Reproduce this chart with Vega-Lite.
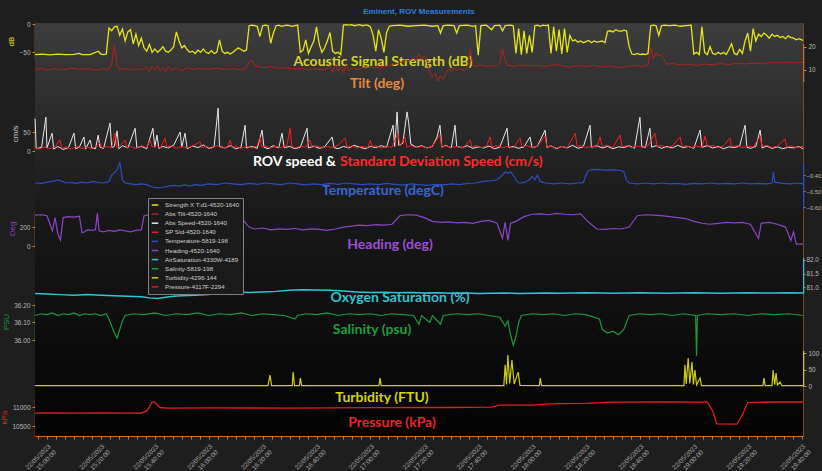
{
"$schema": "https://vega.github.io/schema/vega-lite/v6.json",
"width": 768, "height": 413,
"autosize": {"type": "none"},
"padding": {"left": 35, "top": 23, "right": 19, "bottom": 35},
"background": "#1e1e1e",
"title": {"text": "Eminent, ROV Measurements", "color": "#2f7fe0", "fontSize": 8, "fontWeight": "bold", "anchor": "middle", "offset": 5, "font": "Liberation Sans"},
"datasets": {
"ac": [
{"t":"2023-05-22T14:55:35","v":-54},{"t":"2023-05-22T14:58","v":-53},{"t":"2023-05-22T15:01","v":-54.5},{"t":"2023-05-22T15:04","v":-53},{"t":"2023-05-22T15:07","v":-54},{"t":"2023-05-22T15:10","v":-53.5},{"t":"2023-05-22T15:12","v":-52},{"t":"2023-05-22T15:13","v":-54},{"t":"2023-05-22T15:16","v":-54},{"t":"2023-05-22T15:19","v":-48},{"t":"2023-05-22T15:20","v":-53},{"t":"2023-05-22T15:21","v":-54},{"t":"2023-05-22T15:22","v":-53},{"t":"2023-05-22T15:23","v":-7},{"t":"2023-05-22T15:24","v":-12},{"t":"2023-05-22T15:25","v":-5},{"t":"2023-05-22T15:26","v":-4},{"t":"2023-05-22T15:27","v":-20},{"t":"2023-05-22T15:28","v":-9},{"t":"2023-05-22T15:29","v":-30},{"t":"2023-05-22T15:30","v":-14},{"t":"2023-05-22T15:31","v":-10},{"t":"2023-05-22T15:32","v":-35},{"t":"2023-05-22T15:33","v":-18},{"t":"2023-05-22T15:34","v":-38},{"t":"2023-05-22T15:35","v":-25},{"t":"2023-05-22T15:36","v":-42},{"t":"2023-05-22T15:37","v":-48},{"t":"2023-05-22T15:38","v":-36},{"t":"2023-05-22T15:39","v":-50},{"t":"2023-05-22T15:40","v":-44},{"t":"2023-05-22T15:41","v":-50},{"t":"2023-05-22T15:42","v":-46},{"t":"2023-05-22T15:43","v":-40},{"t":"2023-05-22T15:44","v":-48},{"t":"2023-05-22T15:45","v":-50},{"t":"2023-05-22T15:46","v":-46},{"t":"2023-05-22T15:47","v":-40},{"t":"2023-05-22T15:48","v":-14},{"t":"2023-05-22T15:49","v":-30},{"t":"2023-05-22T15:50","v":-42},{"t":"2023-05-22T15:51","v":-38},{"t":"2023-05-22T15:52","v":-45},{"t":"2023-05-22T15:53","v":-50},{"t":"2023-05-22T15:54","v":-48},{"t":"2023-05-22T15:55","v":-52},{"t":"2023-05-22T15:56","v":-46},{"t":"2023-05-22T15:57","v":-50},{"t":"2023-05-22T15:58","v":-44},{"t":"2023-05-22T15:59","v":-50},{"t":"2023-05-22T16:00","v":-52},{"t":"2023-05-22T16:01","v":-47},{"t":"2023-05-22T16:02","v":-52},{"t":"2023-05-22T16:03","v":-50},{"t":"2023-05-22T16:04","v":-28},{"t":"2023-05-22T16:05","v":-48},{"t":"2023-05-22T16:06","v":-52},{"t":"2023-05-22T16:07","v":-50},{"t":"2023-05-22T16:08","v":-53},{"t":"2023-05-22T16:09","v":-50},{"t":"2023-05-22T16:10","v":-46},{"t":"2023-05-22T16:11","v":-42},{"t":"2023-05-22T16:12","v":-45},{"t":"2023-05-22T16:13","v":-48},{"t":"2023-05-22T16:14","v":-46},{"t":"2023-05-22T16:15","v":-3},{"t":"2023-05-22T16:16","v":-2},{"t":"2023-05-22T16:17","v":-3},{"t":"2023-05-22T16:18","v":-4},{"t":"2023-05-22T16:19","v":-22},{"t":"2023-05-22T16:20","v":-3},{"t":"2023-05-22T16:21","v":-2},{"t":"2023-05-22T16:22","v":-3},{"t":"2023-05-22T16:23","v":-34},{"t":"2023-05-22T16:24","v":-16},{"t":"2023-05-22T16:25","v":-3},{"t":"2023-05-22T16:26","v":-2},{"t":"2023-05-22T16:27","v":-4},{"t":"2023-05-22T16:28","v":-3},{"t":"2023-05-22T16:29","v":-2},{"t":"2023-05-22T16:30","v":-3},{"t":"2023-05-22T16:31","v":-4},{"t":"2023-05-22T16:32","v":-3},{"t":"2023-05-22T16:33","v":-2},{"t":"2023-05-22T16:34","v":-50},{"t":"2023-05-22T16:35","v":-46},{"t":"2023-05-22T16:36","v":-28},{"t":"2023-05-22T16:37","v":-52},{"t":"2023-05-22T16:38","v":-40},{"t":"2023-05-22T16:39","v":-30},{"t":"2023-05-22T16:40","v":-5},{"t":"2023-05-22T16:41","v":-35},{"t":"2023-05-22T16:42","v":-50},{"t":"2023-05-22T16:43","v":-42},{"t":"2023-05-22T16:44","v":-30},{"t":"2023-05-22T16:45","v":-15},{"t":"2023-05-22T16:46","v":-48},{"t":"2023-05-22T16:47","v":-52},{"t":"2023-05-22T16:48","v":-50},{"t":"2023-05-22T16:49","v":-54},{"t":"2023-05-22T16:50","v":-2},{"t":"2023-05-22T16:51","v":-1},{"t":"2023-05-22T16:52","v":-2},{"t":"2023-05-22T16:53","v":-1},{"t":"2023-05-22T16:54","v":-3},{"t":"2023-05-22T16:55","v":-2},{"t":"2023-05-22T16:56","v":-1},{"t":"2023-05-22T16:57","v":-3},{"t":"2023-05-22T16:58","v":-2},{"t":"2023-05-22T16:59","v":-2},{"t":"2023-05-22T17:00","v":-5},{"t":"2023-05-22T17:01","v":-20},{"t":"2023-05-22T17:02","v":-48},{"t":"2023-05-22T17:03","v":-10},{"t":"2023-05-22T17:04","v":-25},{"t":"2023-05-22T17:05","v":-50},{"t":"2023-05-22T17:06","v":-15},{"t":"2023-05-22T17:07","v":-4},{"t":"2023-05-22T17:08","v":-3},{"t":"2023-05-22T17:11","v":-2},{"t":"2023-05-22T17:14","v":-4},{"t":"2023-05-22T17:17","v":-3},{"t":"2023-05-22T17:20","v":-2},{"t":"2023-05-22T17:23","v":-4},{"t":"2023-05-22T17:25","v":-3},{"t":"2023-05-22T17:26","v":-16},{"t":"2023-05-22T17:27","v":-3},{"t":"2023-05-22T17:29","v":-2},{"t":"2023-05-22T17:31","v":-3},{"t":"2023-05-22T17:32","v":-16},{"t":"2023-05-22T17:33","v":-3},{"t":"2023-05-22T17:36","v":-2},{"t":"2023-05-22T17:38","v":-4},{"t":"2023-05-22T17:39","v":-3},{"t":"2023-05-22T17:40","v":-55},{"t":"2023-05-22T17:41","v":-3},{"t":"2023-05-22T17:43","v":-2},{"t":"2023-05-22T17:45","v":-10},{"t":"2023-05-22T17:46","v":-3},{"t":"2023-05-22T17:48","v":-2},{"t":"2023-05-22T17:49","v":-12},{"t":"2023-05-22T17:50","v":-3},{"t":"2023-05-22T17:52","v":-2},{"t":"2023-05-22T17:53","v":-3},{"t":"2023-05-22T17:54","v":-52},{"t":"2023-05-22T17:55","v":-8},{"t":"2023-05-22T17:56","v":-54},{"t":"2023-05-22T17:57","v":-12},{"t":"2023-05-22T17:58","v":-52},{"t":"2023-05-22T17:59","v":-20},{"t":"2023-05-22T18:00","v":-50},{"t":"2023-05-22T18:01","v":-3},{"t":"2023-05-22T18:02","v":-2},{"t":"2023-05-22T18:03","v":-4},{"t":"2023-05-22T18:04","v":-2},{"t":"2023-05-22T18:05","v":-3},{"t":"2023-05-22T18:06","v":-2},{"t":"2023-05-22T18:07","v":-52},{"t":"2023-05-22T18:08","v":-5},{"t":"2023-05-22T18:09","v":-48},{"t":"2023-05-22T18:10","v":-10},{"t":"2023-05-22T18:11","v":-53},{"t":"2023-05-22T18:12","v":-8},{"t":"2023-05-22T18:13","v":-50},{"t":"2023-05-22T18:14","v":-20},{"t":"2023-05-22T18:15","v":-30},{"t":"2023-05-22T18:16","v":-28},{"t":"2023-05-22T18:17","v":-32},{"t":"2023-05-22T18:18","v":-30},{"t":"2023-05-22T18:19","v":-33},{"t":"2023-05-22T18:20","v":-31},{"t":"2023-05-22T18:21","v":-29},{"t":"2023-05-22T18:22","v":-33},{"t":"2023-05-22T18:23","v":-30},{"t":"2023-05-22T18:24","v":-32},{"t":"2023-05-22T18:25","v":-31},{"t":"2023-05-22T18:26","v":-30},{"t":"2023-05-22T18:27","v":-33},{"t":"2023-05-22T18:28","v":-13},{"t":"2023-05-22T18:29","v":-12},{"t":"2023-05-22T18:30","v":-14},{"t":"2023-05-22T18:31","v":-10},{"t":"2023-05-22T18:32","v":-12},{"t":"2023-05-22T18:33","v":-13},{"t":"2023-05-22T18:34","v":-11},{"t":"2023-05-22T18:35","v":-12},{"t":"2023-05-22T18:36","v":-40},{"t":"2023-05-22T18:37","v":-53},{"t":"2023-05-22T18:38","v":-54},{"t":"2023-05-22T18:39","v":-52},{"t":"2023-05-22T18:40","v":-54},{"t":"2023-05-22T18:41","v":-53},{"t":"2023-05-22T18:42","v":-54},{"t":"2023-05-22T18:43","v":-52},{"t":"2023-05-22T18:44","v":-3},{"t":"2023-05-22T18:45","v":-2},{"t":"2023-05-22T18:46","v":-3},{"t":"2023-05-22T18:47","v":-20},{"t":"2023-05-22T18:48","v":-3},{"t":"2023-05-22T18:49","v":-2},{"t":"2023-05-22T18:51","v":-3},{"t":"2023-05-22T18:53","v":-2},{"t":"2023-05-22T18:55","v":-4},{"t":"2023-05-22T18:57","v":-3},{"t":"2023-05-22T18:59","v":-2},{"t":"2023-05-22T19:00","v":-53},{"t":"2023-05-22T19:01","v":-50},{"t":"2023-05-22T19:02","v":-54},{"t":"2023-05-22T19:03","v":-5},{"t":"2023-05-22T19:04","v":-50},{"t":"2023-05-22T19:05","v":-54},{"t":"2023-05-22T19:06","v":-40},{"t":"2023-05-22T19:07","v":-52},{"t":"2023-05-22T19:08","v":-54},{"t":"2023-05-22T19:09","v":-50},{"t":"2023-05-22T19:10","v":-53},{"t":"2023-05-22T19:11","v":-50},{"t":"2023-05-22T19:12","v":-54},{"t":"2023-05-22T19:13","v":-45},{"t":"2023-05-22T19:14","v":-35},{"t":"2023-05-22T19:15","v":-52},{"t":"2023-05-22T19:16","v":-54},{"t":"2023-05-22T19:17","v":-45},{"t":"2023-05-22T19:18","v":-52},{"t":"2023-05-22T19:19","v":-30},{"t":"2023-05-22T19:20","v":-16},{"t":"2023-05-22T19:21","v":-48},{"t":"2023-05-22T19:22","v":-8},{"t":"2023-05-22T19:23","v":-30},{"t":"2023-05-22T19:24","v":-18},{"t":"2023-05-22T19:25","v":-22},{"t":"2023-05-22T19:26","v":-16},{"t":"2023-05-22T19:27","v":-20},{"t":"2023-05-22T19:28","v":-25},{"t":"2023-05-22T19:29","v":-18},{"t":"2023-05-22T19:30","v":-22},{"t":"2023-05-22T19:31","v":-20},{"t":"2023-05-22T19:32","v":-24},{"t":"2023-05-22T19:33","v":-22},{"t":"2023-05-22T19:34","v":-26},{"t":"2023-05-22T19:35","v":-21},{"t":"2023-05-22T19:36","v":-24},{"t":"2023-05-22T19:37","v":-25},{"t":"2023-05-22T19:38","v":-28},{"t":"2023-05-22T19:39","v":-26},{"t":"2023-05-22T19:40","v":-28},{"t":"2023-05-22T19:40:30","v":-29}
],
"tilt": [
{"t":"2023-05-22T14:55:35","v":10.2},{"t":"2023-05-22T14:58","v":10.6},{"t":"2023-05-22T15:00","v":10.0},{"t":"2023-05-22T15:03","v":10.5},{"t":"2023-05-22T15:06","v":10.1},{"t":"2023-05-22T15:09","v":10.8},{"t":"2023-05-22T15:12","v":10.3},{"t":"2023-05-22T15:15","v":10.6},{"t":"2023-05-22T15:18","v":10.0},{"t":"2023-05-22T15:21","v":10.5},{"t":"2023-05-22T15:23","v":10.2},{"t":"2023-05-22T15:24","v":12.5},{"t":"2023-05-22T15:25","v":20.9},{"t":"2023-05-22T15:26","v":12},{"t":"2023-05-22T15:27","v":10.2},{"t":"2023-05-22T15:29","v":10.5},{"t":"2023-05-22T15:31","v":10.0},{"t":"2023-05-22T15:33","v":10.4},{"t":"2023-05-22T15:35","v":10.1},{"t":"2023-05-22T15:37","v":11.2},{"t":"2023-05-22T15:38","v":9.3},{"t":"2023-05-22T15:39","v":11.6},{"t":"2023-05-22T15:40","v":9.8},{"t":"2023-05-22T15:41","v":12.0},{"t":"2023-05-22T15:42","v":9.5},{"t":"2023-05-22T15:43","v":11.0},{"t":"2023-05-22T15:44","v":9.2},{"t":"2023-05-22T15:45","v":11.5},{"t":"2023-05-22T15:46","v":10.0},{"t":"2023-05-22T15:48","v":10.8},{"t":"2023-05-22T15:50","v":9.6},{"t":"2023-05-22T15:52","v":11.0},{"t":"2023-05-22T15:54","v":10.2},{"t":"2023-05-22T15:57","v":10.6},{"t":"2023-05-22T16:00","v":10.3},{"t":"2023-05-22T16:03","v":10.8},{"t":"2023-05-22T16:06","v":10.2},{"t":"2023-05-22T16:09","v":10.5},{"t":"2023-05-22T16:12","v":10.1},{"t":"2023-05-22T16:14","v":11.0},{"t":"2023-05-22T16:15","v":13.5},{"t":"2023-05-22T16:16","v":14.3},{"t":"2023-05-22T16:17","v":12.0},{"t":"2023-05-22T16:19","v":11.3},{"t":"2023-05-22T16:21","v":11.0},{"t":"2023-05-22T16:23","v":11.5},{"t":"2023-05-22T16:25","v":10.8},{"t":"2023-05-22T16:28","v":11.0},{"t":"2023-05-22T16:31","v":10.5},{"t":"2023-05-22T16:34","v":10.6},{"t":"2023-05-22T16:37","v":10.2},{"t":"2023-05-22T16:40","v":10.5},{"t":"2023-05-22T16:43","v":10.0},{"t":"2023-05-22T16:45","v":11.8},{"t":"2023-05-22T16:46","v":9.0},{"t":"2023-05-22T16:47","v":12.2},{"t":"2023-05-22T16:48","v":9.4},{"t":"2023-05-22T16:49","v":11.5},{"t":"2023-05-22T16:50","v":8.8},{"t":"2023-05-22T16:51","v":12.0},{"t":"2023-05-22T16:52","v":9.6},{"t":"2023-05-22T16:53","v":11.0},{"t":"2023-05-22T16:55","v":10.2},{"t":"2023-05-22T16:58","v":11.3},{"t":"2023-05-22T17:01","v":11.0},{"t":"2023-05-22T17:04","v":11.4},{"t":"2023-05-22T17:07","v":11.8},{"t":"2023-05-22T17:09","v":12.5},{"t":"2023-05-22T17:11","v":13.2},{"t":"2023-05-22T17:13","v":14.0},{"t":"2023-05-22T17:15","v":14.3},{"t":"2023-05-22T17:16","v":15.5},{"t":"2023-05-22T17:17","v":13.8},{"t":"2023-05-22T17:18","v":17.0},{"t":"2023-05-22T17:19","v":14.5},{"t":"2023-05-22T17:20","v":16.0},{"t":"2023-05-22T17:21","v":14.0},{"t":"2023-05-22T17:22","v":9.0},{"t":"2023-05-22T17:23","v":7.0},{"t":"2023-05-22T17:24","v":8.5},{"t":"2023-05-22T17:25","v":5.2},{"t":"2023-05-22T17:26","v":7.5},{"t":"2023-05-22T17:27","v":6.0},{"t":"2023-05-22T17:28","v":8.8},{"t":"2023-05-22T17:29","v":10.5},{"t":"2023-05-22T17:30","v":9.5},{"t":"2023-05-22T17:31","v":11.0},{"t":"2023-05-22T17:32","v":9.8},{"t":"2023-05-22T17:33","v":10.5},{"t":"2023-05-22T17:35","v":9.6},{"t":"2023-05-22T17:36","v":11.2},{"t":"2023-05-22T17:37","v":18.7},{"t":"2023-05-22T17:38","v":12.0},{"t":"2023-05-22T17:39","v":11.5},{"t":"2023-05-22T17:41","v":12.2},{"t":"2023-05-22T17:43","v":11.6},{"t":"2023-05-22T17:45","v":12.0},{"t":"2023-05-22T17:47","v":11.5},{"t":"2023-05-22T17:48","v":13.0},{"t":"2023-05-22T17:49","v":19.1},{"t":"2023-05-22T17:50","v":14.0},{"t":"2023-05-22T17:51","v":12.0},{"t":"2023-05-22T17:53","v":11.6},{"t":"2023-05-22T17:56","v":12.2},{"t":"2023-05-22T17:59","v":11.8},{"t":"2023-05-22T18:02","v":12.0},{"t":"2023-05-22T18:05","v":11.5},{"t":"2023-05-22T18:08","v":12.3},{"t":"2023-05-22T18:11","v":11.9},{"t":"2023-05-22T18:14","v":11.2},{"t":"2023-05-22T18:17","v":12.0},{"t":"2023-05-22T18:20","v":11.5},{"t":"2023-05-22T18:23","v":12.0},{"t":"2023-05-22T18:26","v":11.2},{"t":"2023-05-22T18:29","v":11.8},{"t":"2023-05-22T18:32","v":11.0},{"t":"2023-05-22T18:35","v":11.6},{"t":"2023-05-22T18:38","v":12.0},{"t":"2023-05-22T18:41","v":11.5},{"t":"2023-05-22T18:43","v":12.2},{"t":"2023-05-22T18:44","v":19.5},{"t":"2023-05-22T18:45","v":15.0},{"t":"2023-05-22T18:46","v":17.5},{"t":"2023-05-22T18:47","v":16.0},{"t":"2023-05-22T18:48","v":16.5},{"t":"2023-05-22T18:49","v":14.5},{"t":"2023-05-22T18:50","v":12.5},{"t":"2023-05-22T18:52","v":12.8},{"t":"2023-05-22T18:55","v":12.2},{"t":"2023-05-22T18:58","v":12.5},{"t":"2023-05-22T19:01","v":12.0},{"t":"2023-05-22T19:04","v":12.6},{"t":"2023-05-22T19:07","v":12.3},{"t":"2023-05-22T19:10","v":12.8},{"t":"2023-05-22T19:13","v":12.4},{"t":"2023-05-22T19:16","v":12.9},{"t":"2023-05-22T19:19","v":12.6},{"t":"2023-05-22T19:22","v":13.0},{"t":"2023-05-22T19:25","v":12.7},{"t":"2023-05-22T19:28","v":13.2},{"t":"2023-05-22T19:31","v":13.0},{"t":"2023-05-22T19:34","v":13.4},{"t":"2023-05-22T19:37","v":13.1},{"t":"2023-05-22T19:40:30","v":13.3}
],
"spd": [
{"t":"2023-05-22T14:55:35","v":85},{"t":"2023-05-22T14:56","v":6},{"t":"2023-05-22T14:58","v":10},{"t":"2023-05-22T14:59:36","v":89},{"t":"2023-05-22T15:00","v":8},{"t":"2023-05-22T15:01:54","v":47},{"t":"2023-05-22T15:02:30","v":5},{"t":"2023-05-22T15:04","v":12},{"t":"2023-05-22T15:06","v":4},{"t":"2023-05-22T15:08","v":9},{"t":"2023-05-22T15:10","v":47},{"t":"2023-05-22T15:10:40","v":6},{"t":"2023-05-22T15:12","v":10},{"t":"2023-05-22T15:13:42","v":37},{"t":"2023-05-22T15:14:20","v":5},{"t":"2023-05-22T15:16","v":29},{"t":"2023-05-22T15:16:40","v":8},{"t":"2023-05-22T15:18","v":6},{"t":"2023-05-22T15:19","v":42},{"t":"2023-05-22T15:19:40","v":10},{"t":"2023-05-22T15:21","v":7},{"t":"2023-05-22T15:23:24","v":74},{"t":"2023-05-22T15:24","v":9},{"t":"2023-05-22T15:25","v":12},{"t":"2023-05-22T15:26","v":53},{"t":"2023-05-22T15:26:40","v":6},{"t":"2023-05-22T15:28","v":14},{"t":"2023-05-22T15:30","v":8},{"t":"2023-05-22T15:32:42","v":60},{"t":"2023-05-22T15:33:20","v":9},{"t":"2023-05-22T15:35","v":12},{"t":"2023-05-22T15:37","v":6},{"t":"2023-05-22T15:39:18","v":60},{"t":"2023-05-22T15:40","v":10},{"t":"2023-05-22T15:40:48","v":42},{"t":"2023-05-22T15:41:30","v":7},{"t":"2023-05-22T15:43","v":12},{"t":"2023-05-22T15:45","v":8},{"t":"2023-05-22T15:47","v":15},{"t":"2023-05-22T15:49:24","v":50},{"t":"2023-05-22T15:50","v":10},{"t":"2023-05-22T15:51:12","v":47},{"t":"2023-05-22T15:52","v":6},{"t":"2023-05-22T15:54","v":13},{"t":"2023-05-22T15:56","v":9},{"t":"2023-05-22T15:58","v":16},{"t":"2023-05-22T16:00","v":7},{"t":"2023-05-22T16:02","v":11},{"t":"2023-05-22T16:03:30","v":113},{"t":"2023-05-22T16:04","v":12},{"t":"2023-05-22T16:06","v":8},{"t":"2023-05-22T16:08","v":14},{"t":"2023-05-22T16:10","v":6},{"t":"2023-05-22T16:12","v":10},{"t":"2023-05-22T16:13:30","v":68},{"t":"2023-05-22T16:14","v":8},{"t":"2023-05-22T16:16","v":12},{"t":"2023-05-22T16:18","v":7},{"t":"2023-05-22T16:19:48","v":55},{"t":"2023-05-22T16:20:30","v":10},{"t":"2023-05-22T16:22","v":6},{"t":"2023-05-22T16:24","v":14},{"t":"2023-05-22T16:26","v":8},{"t":"2023-05-22T16:27:12","v":47},{"t":"2023-05-22T16:28","v":9},{"t":"2023-05-22T16:30","v":12},{"t":"2023-05-22T16:32","v":6},{"t":"2023-05-22T16:34","v":10},{"t":"2023-05-22T16:36:30","v":60},{"t":"2023-05-22T16:37","v":8},{"t":"2023-05-22T16:39","v":13},{"t":"2023-05-22T16:41","v":7},{"t":"2023-05-22T16:43","v":11},{"t":"2023-05-22T16:45:48","v":37},{"t":"2023-05-22T16:46:30","v":9},{"t":"2023-05-22T16:48","v":6},{"t":"2023-05-22T16:50","v":12},{"t":"2023-05-22T16:52","v":8},{"t":"2023-05-22T16:54","v":15},{"t":"2023-05-22T16:56","v":10},{"t":"2023-05-22T16:58","v":6},{"t":"2023-05-22T17:00","v":12},{"t":"2023-05-22T17:02","v":9},{"t":"2023-05-22T17:04","v":14},{"t":"2023-05-22T17:06","v":10},{"t":"2023-05-22T17:08:24","v":68},{"t":"2023-05-22T17:09","v":12},{"t":"2023-05-22T17:09:54","v":103},{"t":"2023-05-22T17:10:30","v":15},{"t":"2023-05-22T17:12","v":20},{"t":"2023-05-22T17:13:36","v":103},{"t":"2023-05-22T17:14:12","v":74},{"t":"2023-05-22T17:15","v":18},{"t":"2023-05-22T17:17","v":10},{"t":"2023-05-22T17:19","v":14},{"t":"2023-05-22T17:21","v":8},{"t":"2023-05-22T17:23","v":12},{"t":"2023-05-22T17:24:42","v":37},{"t":"2023-05-22T17:25:48","v":68},{"t":"2023-05-22T17:26:30","v":10},{"t":"2023-05-22T17:28","v":15},{"t":"2023-05-22T17:30","v":8},{"t":"2023-05-22T17:31:24","v":68},{"t":"2023-05-22T17:32","v":12},{"t":"2023-05-22T17:34","v":9},{"t":"2023-05-22T17:36","v":14},{"t":"2023-05-22T17:38","v":7},{"t":"2023-05-22T17:40","v":11},{"t":"2023-05-22T17:42","v":8},{"t":"2023-05-22T17:44","v":13},{"t":"2023-05-22T17:46","v":6},{"t":"2023-05-22T17:48","v":10},{"t":"2023-05-22T17:50:42","v":60},{"t":"2023-05-22T17:51:20","v":9},{"t":"2023-05-22T17:53","v":12},{"t":"2023-05-22T17:55","v":7},{"t":"2023-05-22T17:57","v":11},{"t":"2023-05-22T17:59:12","v":37},{"t":"2023-05-22T18:00","v":8},{"t":"2023-05-22T18:02","v":13},{"t":"2023-05-22T18:04:48","v":55},{"t":"2023-05-22T18:05:30","v":9},{"t":"2023-05-22T18:07","v":14},{"t":"2023-05-22T18:09","v":6},{"t":"2023-05-22T18:11","v":12},{"t":"2023-05-22T18:13","v":8},{"t":"2023-05-22T18:15","v":15},{"t":"2023-05-22T18:17","v":7},{"t":"2023-05-22T18:19","v":11},{"t":"2023-05-22T18:21:30","v":68},{"t":"2023-05-22T18:22","v":10},{"t":"2023-05-22T18:24","v":14},{"t":"2023-05-22T18:26","v":8},{"t":"2023-05-22T18:28","v":12},{"t":"2023-05-22T18:30","v":6},{"t":"2023-05-22T18:32","v":11},{"t":"2023-05-22T18:34","v":9},{"t":"2023-05-22T18:36","v":14},{"t":"2023-05-22T18:38","v":7},{"t":"2023-05-22T18:40","v":89},{"t":"2023-05-22T18:40:40","v":12},{"t":"2023-05-22T18:42","v":9},{"t":"2023-05-22T18:43:42","v":60},{"t":"2023-05-22T18:44:20","v":10},{"t":"2023-05-22T18:46","v":14},{"t":"2023-05-22T18:48","v":7},{"t":"2023-05-22T18:50","v":12},{"t":"2023-05-22T18:52","v":8},{"t":"2023-05-22T18:54","v":15},{"t":"2023-05-22T18:56","v":9},{"t":"2023-05-22T18:58","v":12},{"t":"2023-05-22T19:00","v":7},{"t":"2023-05-22T19:02:18","v":55},{"t":"2023-05-22T19:03","v":10},{"t":"2023-05-22T19:05","v":14},{"t":"2023-05-22T19:07","v":8},{"t":"2023-05-22T19:09","v":12},{"t":"2023-05-22T19:11","v":6},{"t":"2023-05-22T19:13","v":11},{"t":"2023-05-22T19:15","v":9},{"t":"2023-05-22T19:17","v":13},{"t":"2023-05-22T19:19","v":68},{"t":"2023-05-22T19:19:40","v":10},{"t":"2023-05-22T19:21","v":7},{"t":"2023-05-22T19:23","v":12},{"t":"2023-05-22T19:24:36","v":55},{"t":"2023-05-22T19:25:20","v":8},{"t":"2023-05-22T19:27","v":13},{"t":"2023-05-22T19:29","v":7},{"t":"2023-05-22T19:31","v":11},{"t":"2023-05-22T19:33","v":6},{"t":"2023-05-22T19:35","v":10},{"t":"2023-05-22T19:37","v":8},{"t":"2023-05-22T19:39","v":12},{"t":"2023-05-22T19:40:30","v":6}
],
"sd": [
{"t":"2023-05-22T14:55:35","v":8},{"t":"2023-05-22T14:57","v":5},{"t":"2023-05-22T14:59","v":10},{"t":"2023-05-22T15:01","v":6},{"t":"2023-05-22T15:03","v":12},{"t":"2023-05-22T15:04:48","v":29},{"t":"2023-05-22T15:05:30","v":7},{"t":"2023-05-22T15:07","v":11},{"t":"2023-05-22T15:09","v":5},{"t":"2023-05-22T15:11","v":13},{"t":"2023-05-22T15:13","v":7},{"t":"2023-05-22T15:15","v":10},{"t":"2023-05-22T15:17","v":6},{"t":"2023-05-22T15:19:42","v":21},{"t":"2023-05-22T15:20:30","v":8},{"t":"2023-05-22T15:22","v":12},{"t":"2023-05-22T15:24","v":9},{"t":"2023-05-22T15:25:12","v":47},{"t":"2023-05-22T15:26","v":10},{"t":"2023-05-22T15:27","v":14},{"t":"2023-05-22T15:29","v":29},{"t":"2023-05-22T15:29:40","v":8},{"t":"2023-05-22T15:31","v":12},{"t":"2023-05-22T15:33","v":6},{"t":"2023-05-22T15:35","v":14},{"t":"2023-05-22T15:37","v":9},{"t":"2023-05-22T15:38:12","v":29},{"t":"2023-05-22T15:39","v":11},{"t":"2023-05-22T15:41","v":15},{"t":"2023-05-22T15:42","v":8},{"t":"2023-05-22T15:43:48","v":34},{"t":"2023-05-22T15:44:30","v":10},{"t":"2023-05-22T15:46","v":14},{"t":"2023-05-22T15:48","v":7},{"t":"2023-05-22T15:50","v":12},{"t":"2023-05-22T15:52","v":8},{"t":"2023-05-22T15:54","v":13},{"t":"2023-05-22T15:56:48","v":24},{"t":"2023-05-22T15:57:30","v":9},{"t":"2023-05-22T15:59","v":12},{"t":"2023-05-22T16:01","v":7},{"t":"2023-05-22T16:03","v":14},{"t":"2023-05-22T16:05","v":8},{"t":"2023-05-22T16:07","v":11},{"t":"2023-05-22T16:08","v":29},{"t":"2023-05-22T16:08:40","v":9},{"t":"2023-05-22T16:10","v":13},{"t":"2023-05-22T16:12","v":7},{"t":"2023-05-22T16:14","v":12},{"t":"2023-05-22T16:16","v":8},{"t":"2023-05-22T16:18","v":14},{"t":"2023-05-22T16:19","v":37},{"t":"2023-05-22T16:19:40","v":10},{"t":"2023-05-22T16:21","v":13},{"t":"2023-05-22T16:23","v":8},{"t":"2023-05-22T16:25","v":12},{"t":"2023-05-22T16:27","v":9},{"t":"2023-05-22T16:29","v":14},{"t":"2023-05-22T16:30:12","v":60},{"t":"2023-05-22T16:30:50","v":12},{"t":"2023-05-22T16:32","v":8},{"t":"2023-05-22T16:34","v":13},{"t":"2023-05-22T16:36","v":10},{"t":"2023-05-22T16:37:36","v":29},{"t":"2023-05-22T16:38:20","v":9},{"t":"2023-05-22T16:40","v":14},{"t":"2023-05-22T16:42","v":8},{"t":"2023-05-22T16:44","v":12},{"t":"2023-05-22T16:46","v":9},{"t":"2023-05-22T16:48","v":15},{"t":"2023-05-22T16:50:36","v":34},{"t":"2023-05-22T16:51:20","v":10},{"t":"2023-05-22T16:53","v":13},{"t":"2023-05-22T16:55","v":8},{"t":"2023-05-22T16:57","v":12},{"t":"2023-05-22T16:59","v":9},{"t":"2023-05-22T17:00","v":29},{"t":"2023-05-22T17:00:40","v":11},{"t":"2023-05-22T17:02","v":14},{"t":"2023-05-22T17:04","v":8},{"t":"2023-05-22T17:06","v":12},{"t":"2023-05-22T17:08","v":10},{"t":"2023-05-22T17:10:12","v":47},{"t":"2023-05-22T17:11","v":13},{"t":"2023-05-22T17:12:48","v":37},{"t":"2023-05-22T17:13:30","v":10},{"t":"2023-05-22T17:15","v":14},{"t":"2023-05-22T17:17","v":9},{"t":"2023-05-22T17:19","v":12},{"t":"2023-05-22T17:21","v":8},{"t":"2023-05-22T17:23","v":13},{"t":"2023-05-22T17:25:48","v":42},{"t":"2023-05-22T17:26:30","v":10},{"t":"2023-05-22T17:28","v":14},{"t":"2023-05-22T17:30","v":9},{"t":"2023-05-22T17:32","v":12},{"t":"2023-05-22T17:34","v":8},{"t":"2023-05-22T17:35","v":13},{"t":"2023-05-22T17:37","v":29},{"t":"2023-05-22T17:37:40","v":10},{"t":"2023-05-22T17:39","v":15},{"t":"2023-05-22T17:41","v":9},{"t":"2023-05-22T17:43","v":12},{"t":"2023-05-22T17:44:24","v":37},{"t":"2023-05-22T17:45","v":11},{"t":"2023-05-22T17:47","v":14},{"t":"2023-05-22T17:49","v":9},{"t":"2023-05-22T17:51","v":12},{"t":"2023-05-22T17:53","v":8},{"t":"2023-05-22T17:55:30","v":34},{"t":"2023-05-22T17:56:10","v":11},{"t":"2023-05-22T17:58","v":14},{"t":"2023-05-22T18:00","v":9},{"t":"2023-05-22T18:02","v":13},{"t":"2023-05-22T18:04:48","v":39},{"t":"2023-05-22T18:05:30","v":10},{"t":"2023-05-22T18:07","v":14},{"t":"2023-05-22T18:09","v":8},{"t":"2023-05-22T18:11","v":12},{"t":"2023-05-22T18:13","v":9},{"t":"2023-05-22T18:16","v":47},{"t":"2023-05-22T18:16:40","v":12},{"t":"2023-05-22T18:18","v":15},{"t":"2023-05-22T18:20","v":9},{"t":"2023-05-22T18:22","v":13},{"t":"2023-05-22T18:24","v":10},{"t":"2023-05-22T18:25:12","v":37},{"t":"2023-05-22T18:26","v":12},{"t":"2023-05-22T18:28","v":15},{"t":"2023-05-22T18:30","v":9},{"t":"2023-05-22T18:32:36","v":42},{"t":"2023-05-22T18:33:20","v":11},{"t":"2023-05-22T18:35","v":14},{"t":"2023-05-22T18:37","v":9},{"t":"2023-05-22T18:39","v":13},{"t":"2023-05-22T18:41","v":10},{"t":"2023-05-22T18:43","v":14},{"t":"2023-05-22T18:45:36","v":47},{"t":"2023-05-22T18:46:20","v":12},{"t":"2023-05-22T18:48","v":15},{"t":"2023-05-22T18:50","v":9},{"t":"2023-05-22T18:52","v":13},{"t":"2023-05-22T18:54:54","v":37},{"t":"2023-05-22T18:55:40","v":11},{"t":"2023-05-22T18:57","v":14},{"t":"2023-05-22T18:59","v":9},{"t":"2023-05-22T19:01","v":13},{"t":"2023-05-22T19:03","v":10},{"t":"2023-05-22T19:04:12","v":39},{"t":"2023-05-22T19:05","v":12},{"t":"2023-05-22T19:07","v":15},{"t":"2023-05-22T19:09","v":9},{"t":"2023-05-22T19:11","v":13},{"t":"2023-05-22T19:13:24","v":34},{"t":"2023-05-22T19:14","v":11},{"t":"2023-05-22T19:16","v":14},{"t":"2023-05-22T19:18","v":9},{"t":"2023-05-22T19:20","v":13},{"t":"2023-05-22T19:22","v":10},{"t":"2023-05-22T19:24:36","v":39},{"t":"2023-05-22T19:25:20","v":12},{"t":"2023-05-22T19:27","v":15},{"t":"2023-05-22T19:29","v":9},{"t":"2023-05-22T19:31","v":13},{"t":"2023-05-22T19:33:48","v":32},{"t":"2023-05-22T19:34:30","v":10},{"t":"2023-05-22T19:36","v":14},{"t":"2023-05-22T19:38","v":9},{"t":"2023-05-22T19:40:30","v":12}
],
"temp": [
{"t":"2023-05-22T14:55:35","v":-0.45},{"t":"2023-05-22T14:58","v":-0.452},{"t":"2023-05-22T15:00","v":-0.445},{"t":"2023-05-22T15:02","v":-0.44},{"t":"2023-05-22T15:04","v":-0.43},{"t":"2023-05-22T15:05","v":-0.435},{"t":"2023-05-22T15:07","v":-0.45},{"t":"2023-05-22T15:09","v":-0.447},{"t":"2023-05-22T15:11","v":-0.452},{"t":"2023-05-22T15:13","v":-0.445},{"t":"2023-05-22T15:15","v":-0.45},{"t":"2023-05-22T15:17","v":-0.44},{"t":"2023-05-22T15:19","v":-0.447},{"t":"2023-05-22T15:21","v":-0.45},{"t":"2023-05-22T15:23","v":-0.44},{"t":"2023-05-22T15:24","v":-0.40},{"t":"2023-05-22T15:25","v":-0.385},{"t":"2023-05-22T15:26","v":-0.37},{"t":"2023-05-22T15:27","v":-0.32},{"t":"2023-05-22T15:28","v":-0.43},{"t":"2023-05-22T15:29","v":-0.45},{"t":"2023-05-22T15:31","v":-0.455},{"t":"2023-05-22T15:33","v":-0.46},{"t":"2023-05-22T15:35","v":-0.455},{"t":"2023-05-22T15:37","v":-0.46},{"t":"2023-05-22T15:39","v":-0.475},{"t":"2023-05-22T15:41","v":-0.48},{"t":"2023-05-22T15:43","v":-0.478},{"t":"2023-05-22T15:45","v":-0.47},{"t":"2023-05-22T15:47","v":-0.465},{"t":"2023-05-22T15:49","v":-0.47},{"t":"2023-05-22T15:51","v":-0.462},{"t":"2023-05-22T15:53","v":-0.468},{"t":"2023-05-22T15:55","v":-0.46},{"t":"2023-05-22T15:57","v":-0.465},{"t":"2023-05-22T16:00","v":-0.455},{"t":"2023-05-22T16:03","v":-0.46},{"t":"2023-05-22T16:06","v":-0.45},{"t":"2023-05-22T16:09","v":-0.455},{"t":"2023-05-22T16:12","v":-0.46},{"t":"2023-05-22T16:15","v":-0.452},{"t":"2023-05-22T16:18","v":-0.458},{"t":"2023-05-22T16:21","v":-0.45},{"t":"2023-05-22T16:24","v":-0.455},{"t":"2023-05-22T16:27","v":-0.46},{"t":"2023-05-22T16:30","v":-0.45},{"t":"2023-05-22T16:33","v":-0.455},{"t":"2023-05-22T16:36","v":-0.462},{"t":"2023-05-22T16:39","v":-0.455},{"t":"2023-05-22T16:42","v":-0.46},{"t":"2023-05-22T16:45","v":-0.452},{"t":"2023-05-22T16:48","v":-0.458},{"t":"2023-05-22T16:51","v":-0.45},{"t":"2023-05-22T16:54","v":-0.456},{"t":"2023-05-22T16:57","v":-0.46},{"t":"2023-05-22T17:00","v":-0.455},{"t":"2023-05-22T17:03","v":-0.46},{"t":"2023-05-22T17:06","v":-0.452},{"t":"2023-05-22T17:09","v":-0.458},{"t":"2023-05-22T17:12","v":-0.463},{"t":"2023-05-22T17:15","v":-0.455},{"t":"2023-05-22T17:18","v":-0.46},{"t":"2023-05-22T17:21","v":-0.465},{"t":"2023-05-22T17:24","v":-0.458},{"t":"2023-05-22T17:27","v":-0.462},{"t":"2023-05-22T17:30","v":-0.455},{"t":"2023-05-22T17:33","v":-0.46},{"t":"2023-05-22T17:36","v":-0.452},{"t":"2023-05-22T17:39","v":-0.45},{"t":"2023-05-22T17:42","v":-0.44},{"t":"2023-05-22T17:45","v":-0.435},{"t":"2023-05-22T17:47","v":-0.43},{"t":"2023-05-22T17:49","v":-0.40},{"t":"2023-05-22T17:50","v":-0.38},{"t":"2023-05-22T17:51","v":-0.39},{"t":"2023-05-22T17:52","v":-0.38},{"t":"2023-05-22T17:53","v":-0.40},{"t":"2023-05-22T17:54","v":-0.43},{"t":"2023-05-22T17:55","v":-0.45},{"t":"2023-05-22T17:57","v":-0.448},{"t":"2023-05-22T17:59","v":-0.43},{"t":"2023-05-22T18:00","v":-0.41},{"t":"2023-05-22T18:01","v":-0.43},{"t":"2023-05-22T18:02","v":-0.40},{"t":"2023-05-22T18:03","v":-0.44},{"t":"2023-05-22T18:05","v":-0.45},{"t":"2023-05-22T18:08","v":-0.455},{"t":"2023-05-22T18:11","v":-0.45},{"t":"2023-05-22T18:14","v":-0.455},{"t":"2023-05-22T18:17","v":-0.45},{"t":"2023-05-22T18:19","v":-0.448},{"t":"2023-05-22T18:20","v":-0.40},{"t":"2023-05-22T18:21","v":-0.37},{"t":"2023-05-22T18:24","v":-0.365},{"t":"2023-05-22T18:27","v":-0.37},{"t":"2023-05-22T18:30","v":-0.368},{"t":"2023-05-22T18:33","v":-0.372},{"t":"2023-05-22T18:34","v":-0.38},{"t":"2023-05-22T18:35","v":-0.43},{"t":"2023-05-22T18:36","v":-0.45},{"t":"2023-05-22T18:39","v":-0.455},{"t":"2023-05-22T18:42","v":-0.45},{"t":"2023-05-22T18:45","v":-0.455},{"t":"2023-05-22T18:48","v":-0.45},{"t":"2023-05-22T18:51","v":-0.455},{"t":"2023-05-22T18:54","v":-0.452},{"t":"2023-05-22T18:57","v":-0.458},{"t":"2023-05-22T19:00","v":-0.452},{"t":"2023-05-22T19:03","v":-0.456},{"t":"2023-05-22T19:06","v":-0.45},{"t":"2023-05-22T19:09","v":-0.455},{"t":"2023-05-22T19:12","v":-0.452},{"t":"2023-05-22T19:15","v":-0.456},{"t":"2023-05-22T19:18","v":-0.45},{"t":"2023-05-22T19:21","v":-0.455},{"t":"2023-05-22T19:24","v":-0.452},{"t":"2023-05-22T19:27","v":-0.456},{"t":"2023-05-22T19:29","v":-0.45},{"t":"2023-05-22T19:29:30","v":-0.38},{"t":"2023-05-22T19:30","v":-0.445},{"t":"2023-05-22T19:33","v":-0.452},{"t":"2023-05-22T19:36","v":-0.455},{"t":"2023-05-22T19:38","v":-0.45},{"t":"2023-05-22T19:40:30","v":-0.455}
],
"head": [
{"t":"2023-05-22T14:55:35","v":326},{"t":"2023-05-22T14:58","v":330},{"t":"2023-05-22T15:00","v":320},{"t":"2023-05-22T15:01","v":240},{"t":"2023-05-22T15:02","v":160},{"t":"2023-05-22T15:03","v":300},{"t":"2023-05-22T15:04","v":130},{"t":"2023-05-22T15:05","v":63},{"t":"2023-05-22T15:06","v":300},{"t":"2023-05-22T15:08","v":310},{"t":"2023-05-22T15:10","v":305},{"t":"2023-05-22T15:12","v":315},{"t":"2023-05-22T15:13","v":140},{"t":"2023-05-22T15:14","v":150},{"t":"2023-05-22T15:15","v":170},{"t":"2023-05-22T15:17","v":165},{"t":"2023-05-22T15:18","v":175},{"t":"2023-05-22T15:18:40","v":345},{"t":"2023-05-22T15:19:20","v":160},{"t":"2023-05-22T15:21","v":150},{"t":"2023-05-22T15:23","v":165},{"t":"2023-05-22T15:25","v":155},{"t":"2023-05-22T15:27","v":170},{"t":"2023-05-22T15:29","v":160},{"t":"2023-05-22T15:31","v":150},{"t":"2023-05-22T15:33","v":165},{"t":"2023-05-22T15:35","v":170},{"t":"2023-05-22T15:36","v":320},{"t":"2023-05-22T15:38","v":330},{"t":"2023-05-22T15:40","v":300},{"t":"2023-05-22T15:41","v":100},{"t":"2023-05-22T15:42","v":310},{"t":"2023-05-22T15:44","v":330},{"t":"2023-05-22T15:47","v":320},{"t":"2023-05-22T15:50","v":335},{"t":"2023-05-22T15:53","v":320},{"t":"2023-05-22T15:56","v":330},{"t":"2023-05-22T16:00","v":325},{"t":"2023-05-22T16:03","v":330},{"t":"2023-05-22T16:06","v":320},{"t":"2023-05-22T16:09","v":335},{"t":"2023-05-22T16:12","v":300},{"t":"2023-05-22T16:15","v":200},{"t":"2023-05-22T16:17","v":180},{"t":"2023-05-22T16:20","v":190},{"t":"2023-05-22T16:23","v":170},{"t":"2023-05-22T16:26","v":180},{"t":"2023-05-22T16:29","v":175},{"t":"2023-05-22T16:32","v":185},{"t":"2023-05-22T16:35","v":170},{"t":"2023-05-22T16:38","v":180},{"t":"2023-05-22T16:41","v":175},{"t":"2023-05-22T16:44","v":165},{"t":"2023-05-22T16:47","v":180},{"t":"2023-05-22T16:50","v":200},{"t":"2023-05-22T16:53","v":210},{"t":"2023-05-22T16:56","v":220},{"t":"2023-05-22T16:59","v":215},{"t":"2023-05-22T17:02","v":225},{"t":"2023-05-22T17:05","v":220},{"t":"2023-05-22T17:08","v":230},{"t":"2023-05-22T17:11","v":320},{"t":"2023-05-22T17:14","v":330},{"t":"2023-05-22T17:17","v":325},{"t":"2023-05-22T17:20","v":300},{"t":"2023-05-22T17:23","v":260},{"t":"2023-05-22T17:26","v":250},{"t":"2023-05-22T17:29","v":255},{"t":"2023-05-22T17:32","v":245},{"t":"2023-05-22T17:35","v":250},{"t":"2023-05-22T17:38","v":240},{"t":"2023-05-22T17:41","v":260},{"t":"2023-05-22T17:44","v":270},{"t":"2023-05-22T17:47","v":240},{"t":"2023-05-22T17:49","v":80},{"t":"2023-05-22T17:50","v":250},{"t":"2023-05-22T17:51","v":60},{"t":"2023-05-22T17:52","v":240},{"t":"2023-05-22T17:54","v":260},{"t":"2023-05-22T17:57","v":310},{"t":"2023-05-22T18:00","v":335},{"t":"2023-05-22T18:03","v":340},{"t":"2023-05-22T18:06","v":330},{"t":"2023-05-22T18:09","v":345},{"t":"2023-05-22T18:12","v":335},{"t":"2023-05-22T18:15","v":330},{"t":"2023-05-22T18:18","v":340},{"t":"2023-05-22T18:21","v":250},{"t":"2023-05-22T18:24","v":180},{"t":"2023-05-22T18:27","v":175},{"t":"2023-05-22T18:30","v":185},{"t":"2023-05-22T18:33","v":180},{"t":"2023-05-22T18:36","v":200},{"t":"2023-05-22T18:39","v":320},{"t":"2023-05-22T18:42","v":330},{"t":"2023-05-22T18:45","v":325},{"t":"2023-05-22T18:48","v":320},{"t":"2023-05-22T18:51","v":310},{"t":"2023-05-22T18:54","v":300},{"t":"2023-05-22T18:57","v":290},{"t":"2023-05-22T19:00","v":260},{"t":"2023-05-22T19:03","v":240},{"t":"2023-05-22T19:06","v":230},{"t":"2023-05-22T19:09","v":240},{"t":"2023-05-22T19:12","v":250},{"t":"2023-05-22T19:15","v":245},{"t":"2023-05-22T19:18","v":250},{"t":"2023-05-22T19:21","v":230},{"t":"2023-05-22T19:24","v":80},{"t":"2023-05-22T19:25","v":240},{"t":"2023-05-22T19:28","v":250},{"t":"2023-05-22T19:31","v":230},{"t":"2023-05-22T19:34","v":200},{"t":"2023-05-22T19:36","v":60},{"t":"2023-05-22T19:37","v":150},{"t":"2023-05-22T19:38","v":20},{"t":"2023-05-22T19:40:30","v":20}
],
"oxy": [
{"t":"2023-05-22T14:55:35","v":80.76},{"t":"2023-05-22T15:00","v":80.74},{"t":"2023-05-22T15:05","v":80.72},{"t":"2023-05-22T15:10","v":80.70},{"t":"2023-05-22T15:15","v":80.72},{"t":"2023-05-22T15:20","v":80.70},{"t":"2023-05-22T15:25","v":80.68},{"t":"2023-05-22T15:30","v":80.66},{"t":"2023-05-22T15:35","v":80.64},{"t":"2023-05-22T15:38","v":80.60},{"t":"2023-05-22T15:41","v":80.58},{"t":"2023-05-22T15:44","v":80.62},{"t":"2023-05-22T15:47","v":80.66},{"t":"2023-05-22T15:50","v":80.68},{"t":"2023-05-22T15:55","v":80.70},{"t":"2023-05-22T16:00","v":80.72},{"t":"2023-05-22T16:03","v":80.80},{"t":"2023-05-22T16:04","v":80.90},{"t":"2023-05-22T16:06","v":80.86},{"t":"2023-05-22T16:10","v":80.82},{"t":"2023-05-22T16:15","v":80.80},{"t":"2023-05-22T16:20","v":80.82},{"t":"2023-05-22T16:25","v":80.84},{"t":"2023-05-22T16:30","v":80.88},{"t":"2023-05-22T16:35","v":80.90},{"t":"2023-05-22T16:40","v":80.89},{"t":"2023-05-22T16:45","v":80.88},{"t":"2023-05-22T16:50","v":80.85},{"t":"2023-05-22T16:55","v":80.82},{"t":"2023-05-22T17:00","v":80.80},{"t":"2023-05-22T17:05","v":80.81},{"t":"2023-05-22T17:10","v":80.79},{"t":"2023-05-22T17:15","v":80.80},{"t":"2023-05-22T17:20","v":80.78},{"t":"2023-05-22T17:25","v":80.79},{"t":"2023-05-22T17:30","v":80.77},{"t":"2023-05-22T17:35","v":80.78},{"t":"2023-05-22T17:40","v":80.76},{"t":"2023-05-22T17:45","v":80.77},{"t":"2023-05-22T17:50","v":80.78},{"t":"2023-05-22T17:55","v":80.76},{"t":"2023-05-22T18:00","v":80.77},{"t":"2023-05-22T18:05","v":80.78},{"t":"2023-05-22T18:10","v":80.77},{"t":"2023-05-22T18:15","v":80.78},{"t":"2023-05-22T18:20","v":80.79},{"t":"2023-05-22T18:25","v":80.78},{"t":"2023-05-22T18:30","v":80.77},{"t":"2023-05-22T18:35","v":80.78},{"t":"2023-05-22T18:40","v":80.79},{"t":"2023-05-22T18:45","v":80.78},{"t":"2023-05-22T18:50","v":80.77},{"t":"2023-05-22T18:55","v":80.78},{"t":"2023-05-22T19:00","v":80.79},{"t":"2023-05-22T19:05","v":80.78},{"t":"2023-05-22T19:10","v":80.77},{"t":"2023-05-22T19:15","v":80.78},{"t":"2023-05-22T19:20","v":80.79},{"t":"2023-05-22T19:25","v":80.78},{"t":"2023-05-22T19:30","v":80.78},{"t":"2023-05-22T19:35","v":80.79},{"t":"2023-05-22T19:40:30","v":80.78}
],
"sal": [
{"t":"2023-05-22T14:55:35","v":36.14},{"t":"2023-05-22T14:58","v":36.15},{"t":"2023-05-22T15:00","v":36.145},{"t":"2023-05-22T15:02","v":36.155},{"t":"2023-05-22T15:04","v":36.14},{"t":"2023-05-22T15:06","v":36.15},{"t":"2023-05-22T15:08","v":36.145},{"t":"2023-05-22T15:10","v":36.155},{"t":"2023-05-22T15:12","v":36.14},{"t":"2023-05-22T15:14","v":36.15},{"t":"2023-05-22T15:16","v":36.145},{"t":"2023-05-22T15:18","v":36.15},{"t":"2023-05-22T15:20","v":36.14},{"t":"2023-05-22T15:22","v":36.15},{"t":"2023-05-22T15:23","v":36.12},{"t":"2023-05-22T15:24","v":36.08},{"t":"2023-05-22T15:25","v":36.04},{"t":"2023-05-22T15:26","v":36.01},{"t":"2023-05-22T15:27","v":36.06},{"t":"2023-05-22T15:28","v":36.11},{"t":"2023-05-22T15:29","v":36.14},{"t":"2023-05-22T15:32","v":36.15},{"t":"2023-05-22T15:36","v":36.145},{"t":"2023-05-22T15:40","v":36.155},{"t":"2023-05-22T15:44","v":36.14},{"t":"2023-05-22T15:48","v":36.15},{"t":"2023-05-22T15:52","v":36.145},{"t":"2023-05-22T15:56","v":36.155},{"t":"2023-05-22T16:00","v":36.14},{"t":"2023-05-22T16:04","v":36.15},{"t":"2023-05-22T16:08","v":36.145},{"t":"2023-05-22T16:12","v":36.155},{"t":"2023-05-22T16:16","v":36.14},{"t":"2023-05-22T16:20","v":36.15},{"t":"2023-05-22T16:24","v":36.145},{"t":"2023-05-22T16:28","v":36.14},{"t":"2023-05-22T16:32","v":36.12},{"t":"2023-05-22T16:33","v":36.14},{"t":"2023-05-22T16:36","v":36.15},{"t":"2023-05-22T16:40","v":36.145},{"t":"2023-05-22T16:44","v":36.155},{"t":"2023-05-22T16:48","v":36.14},{"t":"2023-05-22T16:52","v":36.15},{"t":"2023-05-22T16:56","v":36.145},{"t":"2023-05-22T17:00","v":36.15},{"t":"2023-05-22T17:04","v":36.14},{"t":"2023-05-22T17:08","v":36.15},{"t":"2023-05-22T17:12","v":36.145},{"t":"2023-05-22T17:16","v":36.14},{"t":"2023-05-22T17:18","v":36.09},{"t":"2023-05-22T17:19","v":36.14},{"t":"2023-05-22T17:22","v":36.10},{"t":"2023-05-22T17:23","v":36.14},{"t":"2023-05-22T17:26","v":36.09},{"t":"2023-05-22T17:27","v":36.14},{"t":"2023-05-22T17:32","v":36.15},{"t":"2023-05-22T17:36","v":36.145},{"t":"2023-05-22T17:40","v":36.15},{"t":"2023-05-22T17:44","v":36.14},{"t":"2023-05-22T17:48","v":36.13},{"t":"2023-05-22T17:50","v":36.08},{"t":"2023-05-22T17:51","v":36.11},{"t":"2023-05-22T17:52","v":36.03},{"t":"2023-05-22T17:53","v":35.97},{"t":"2023-05-22T17:54","v":36.02},{"t":"2023-05-22T17:55","v":36.10},{"t":"2023-05-22T17:56","v":36.14},{"t":"2023-05-22T18:00","v":36.15},{"t":"2023-05-22T18:04","v":36.145},{"t":"2023-05-22T18:08","v":36.15},{"t":"2023-05-22T18:12","v":36.14},{"t":"2023-05-22T18:16","v":36.15},{"t":"2023-05-22T18:20","v":36.145},{"t":"2023-05-22T18:25","v":36.12},{"t":"2023-05-22T18:26","v":36.06},{"t":"2023-05-22T18:28","v":36.04},{"t":"2023-05-22T18:30","v":36.05},{"t":"2023-05-22T18:32","v":36.03},{"t":"2023-05-22T18:34","v":36.06},{"t":"2023-05-22T18:35","v":36.10},{"t":"2023-05-22T18:36","v":36.14},{"t":"2023-05-22T18:40","v":36.15},{"t":"2023-05-22T18:44","v":36.145},{"t":"2023-05-22T18:48","v":36.15},{"t":"2023-05-22T18:52","v":36.14},{"t":"2023-05-22T18:56","v":36.15},{"t":"2023-05-22T19:00:40","v":36.14},{"t":"2023-05-22T19:01","v":35.91},{"t":"2023-05-22T19:01:20","v":36.14},{"t":"2023-05-22T19:05","v":36.15},{"t":"2023-05-22T19:10","v":36.145},{"t":"2023-05-22T19:15","v":36.15},{"t":"2023-05-22T19:20","v":36.14},{"t":"2023-05-22T19:25","v":36.15},{"t":"2023-05-22T19:30","v":36.145},{"t":"2023-05-22T19:35","v":36.15},{"t":"2023-05-22T19:40:30","v":36.14}
],
"turb": [
{"t":"2023-05-22T14:55:35","v":1},{"t":"2023-05-22T15:30","v":1},{"t":"2023-05-22T16:00","v":1},{"t":"2023-05-22T16:22","v":1},{"t":"2023-05-22T16:22:45","v":33},{"t":"2023-05-22T16:23:20","v":1},{"t":"2023-05-22T16:31","v":1},{"t":"2023-05-22T16:31:20","v":42},{"t":"2023-05-22T16:31:50","v":1},{"t":"2023-05-22T16:33:40","v":1},{"t":"2023-05-22T16:34","v":24},{"t":"2023-05-22T16:34:30","v":1},{"t":"2023-05-22T17:03:10","v":1},{"t":"2023-05-22T17:03:35","v":24},{"t":"2023-05-22T17:04","v":1},{"t":"2023-05-22T17:49:30","v":1},{"t":"2023-05-22T17:50","v":64},{"t":"2023-05-22T17:50:30","v":5},{"t":"2023-05-22T17:51","v":94},{"t":"2023-05-22T17:51:40","v":8},{"t":"2023-05-22T17:52:30","v":79},{"t":"2023-05-22T17:53:20","v":6},{"t":"2023-05-22T17:54:48","v":42},{"t":"2023-05-22T17:55:30","v":2},{"t":"2023-05-22T18:02:40","v":1},{"t":"2023-05-22T18:03","v":24},{"t":"2023-05-22T18:03:30","v":1},{"t":"2023-05-22T18:30","v":1},{"t":"2023-05-22T18:56:20","v":1},{"t":"2023-05-22T18:56:42","v":64},{"t":"2023-05-22T18:57:10","v":6},{"t":"2023-05-22T18:57:54","v":85},{"t":"2023-05-22T18:58:30","v":8},{"t":"2023-05-22T18:59:18","v":73},{"t":"2023-05-22T18:59:50","v":5},{"t":"2023-05-22T19:00:24","v":48},{"t":"2023-05-22T19:01","v":3},{"t":"2023-05-22T19:02:18","v":24},{"t":"2023-05-22T19:02:50","v":1},{"t":"2023-05-22T19:25:40","v":1},{"t":"2023-05-22T19:26","v":24},{"t":"2023-05-22T19:26:30","v":1},{"t":"2023-05-22T19:29","v":1},{"t":"2023-05-22T19:29:24","v":48},{"t":"2023-05-22T19:30","v":4},{"t":"2023-05-22T19:30:30","v":39},{"t":"2023-05-22T19:31","v":3},{"t":"2023-05-22T19:32","v":12},{"t":"2023-05-22T19:32:40","v":1},{"t":"2023-05-22T19:40:30","v":1}
],
"pres": [
{"t":"2023-05-22T14:55:35","v":10842},{"t":"2023-05-22T15:00","v":10845},{"t":"2023-05-22T15:10","v":10842},{"t":"2023-05-22T15:20","v":10845},{"t":"2023-05-22T15:30","v":10842},{"t":"2023-05-22T15:35","v":10845},{"t":"2023-05-22T15:37","v":10900},{"t":"2023-05-22T15:38","v":11000},{"t":"2023-05-22T15:39","v":11130},{"t":"2023-05-22T15:40","v":11130},{"t":"2023-05-22T15:41","v":11050},{"t":"2023-05-22T15:42","v":10990},{"t":"2023-05-22T15:45","v":10974},{"t":"2023-05-22T16:00","v":10980},{"t":"2023-05-22T16:30","v":10975},{"t":"2023-05-22T17:00","v":10985},{"t":"2023-05-22T17:30","v":10990},{"t":"2023-05-22T17:45","v":11000},{"t":"2023-05-22T17:48","v":11050},{"t":"2023-05-22T17:55","v":11055},{"t":"2023-05-22T18:00","v":11050},{"t":"2023-05-22T18:05","v":11080},{"t":"2023-05-22T18:10","v":11090},{"t":"2023-05-22T18:20","v":11100},{"t":"2023-05-22T18:30","v":11132},{"t":"2023-05-22T18:50","v":11135},{"t":"2023-05-22T19:05","v":11130},{"t":"2023-05-22T19:07","v":10900},{"t":"2023-05-22T19:08:30","v":10560},{"t":"2023-05-22T19:16","v":10555},{"t":"2023-05-22T19:18","v":10800},{"t":"2023-05-22T19:20","v":11120},{"t":"2023-05-22T19:30","v":11135},{"t":"2023-05-22T19:40:30","v":11135}
]
},
"encoding": {
  "x": {"field": "t", "type": "temporal",
        "scale": {"domain": [{"year":2023,"month":5,"date":22,"hours":14,"minutes":55,"seconds":33},{"year":2023,"month":5,"date":22,"hours":19,"minutes":40,"seconds":30}]},
        "axis": {"title": null,
          "values": [{"year":2023,"month":5,"date":22,"hours":14,"minutes":56,"seconds":40},
{"year":2023,"month":5,"date":22,"hours":15,"minutes":0,"seconds":0},{"year":2023,"month":5,"date":22,"hours":15,"minutes":3,"seconds":20},{"year":2023,"month":5,"date":22,"hours":15,"minutes":6,"seconds":40},{"year":2023,"month":5,"date":22,"hours":15,"minutes":10,"seconds":0},{"year":2023,"month":5,"date":22,"hours":15,"minutes":13,"seconds":20},{"year":2023,"month":5,"date":22,"hours":15,"minutes":16,"seconds":40},{"year":2023,"month":5,"date":22,"hours":15,"minutes":20,"seconds":0},{"year":2023,"month":5,"date":22,"hours":15,"minutes":23,"seconds":20},{"year":2023,"month":5,"date":22,"hours":15,"minutes":26,"seconds":40},{"year":2023,"month":5,"date":22,"hours":15,"minutes":30,"seconds":0},{"year":2023,"month":5,"date":22,"hours":15,"minutes":33,"seconds":20},{"year":2023,"month":5,"date":22,"hours":15,"minutes":36,"seconds":40},{"year":2023,"month":5,"date":22,"hours":15,"minutes":40,"seconds":0},{"year":2023,"month":5,"date":22,"hours":15,"minutes":43,"seconds":20},{"year":2023,"month":5,"date":22,"hours":15,"minutes":46,"seconds":40},{"year":2023,"month":5,"date":22,"hours":15,"minutes":50,"seconds":0},{"year":2023,"month":5,"date":22,"hours":15,"minutes":53,"seconds":20},{"year":2023,"month":5,"date":22,"hours":15,"minutes":56,"seconds":40},
{"year":2023,"month":5,"date":22,"hours":16,"minutes":0,"seconds":0},{"year":2023,"month":5,"date":22,"hours":16,"minutes":3,"seconds":20},{"year":2023,"month":5,"date":22,"hours":16,"minutes":6,"seconds":40},{"year":2023,"month":5,"date":22,"hours":16,"minutes":10,"seconds":0},{"year":2023,"month":5,"date":22,"hours":16,"minutes":13,"seconds":20},{"year":2023,"month":5,"date":22,"hours":16,"minutes":16,"seconds":40},{"year":2023,"month":5,"date":22,"hours":16,"minutes":20,"seconds":0},{"year":2023,"month":5,"date":22,"hours":16,"minutes":23,"seconds":20},{"year":2023,"month":5,"date":22,"hours":16,"minutes":26,"seconds":40},{"year":2023,"month":5,"date":22,"hours":16,"minutes":30,"seconds":0},{"year":2023,"month":5,"date":22,"hours":16,"minutes":33,"seconds":20},{"year":2023,"month":5,"date":22,"hours":16,"minutes":36,"seconds":40},{"year":2023,"month":5,"date":22,"hours":16,"minutes":40,"seconds":0},{"year":2023,"month":5,"date":22,"hours":16,"minutes":43,"seconds":20},{"year":2023,"month":5,"date":22,"hours":16,"minutes":46,"seconds":40},{"year":2023,"month":5,"date":22,"hours":16,"minutes":50,"seconds":0},{"year":2023,"month":5,"date":22,"hours":16,"minutes":53,"seconds":20},{"year":2023,"month":5,"date":22,"hours":16,"minutes":56,"seconds":40},
{"year":2023,"month":5,"date":22,"hours":17,"minutes":0,"seconds":0},{"year":2023,"month":5,"date":22,"hours":17,"minutes":3,"seconds":20},{"year":2023,"month":5,"date":22,"hours":17,"minutes":6,"seconds":40},{"year":2023,"month":5,"date":22,"hours":17,"minutes":10,"seconds":0},{"year":2023,"month":5,"date":22,"hours":17,"minutes":13,"seconds":20},{"year":2023,"month":5,"date":22,"hours":17,"minutes":16,"seconds":40},{"year":2023,"month":5,"date":22,"hours":17,"minutes":20,"seconds":0},{"year":2023,"month":5,"date":22,"hours":17,"minutes":23,"seconds":20},{"year":2023,"month":5,"date":22,"hours":17,"minutes":26,"seconds":40},{"year":2023,"month":5,"date":22,"hours":17,"minutes":30,"seconds":0},{"year":2023,"month":5,"date":22,"hours":17,"minutes":33,"seconds":20},{"year":2023,"month":5,"date":22,"hours":17,"minutes":36,"seconds":40},{"year":2023,"month":5,"date":22,"hours":17,"minutes":40,"seconds":0},{"year":2023,"month":5,"date":22,"hours":17,"minutes":43,"seconds":20},{"year":2023,"month":5,"date":22,"hours":17,"minutes":46,"seconds":40},{"year":2023,"month":5,"date":22,"hours":17,"minutes":50,"seconds":0},{"year":2023,"month":5,"date":22,"hours":17,"minutes":53,"seconds":20},{"year":2023,"month":5,"date":22,"hours":17,"minutes":56,"seconds":40},
{"year":2023,"month":5,"date":22,"hours":18,"minutes":0,"seconds":0},{"year":2023,"month":5,"date":22,"hours":18,"minutes":3,"seconds":20},{"year":2023,"month":5,"date":22,"hours":18,"minutes":6,"seconds":40},{"year":2023,"month":5,"date":22,"hours":18,"minutes":10,"seconds":0},{"year":2023,"month":5,"date":22,"hours":18,"minutes":13,"seconds":20},{"year":2023,"month":5,"date":22,"hours":18,"minutes":16,"seconds":40},{"year":2023,"month":5,"date":22,"hours":18,"minutes":20,"seconds":0},{"year":2023,"month":5,"date":22,"hours":18,"minutes":23,"seconds":20},{"year":2023,"month":5,"date":22,"hours":18,"minutes":26,"seconds":40},{"year":2023,"month":5,"date":22,"hours":18,"minutes":30,"seconds":0},{"year":2023,"month":5,"date":22,"hours":18,"minutes":33,"seconds":20},{"year":2023,"month":5,"date":22,"hours":18,"minutes":36,"seconds":40},{"year":2023,"month":5,"date":22,"hours":18,"minutes":40,"seconds":0},{"year":2023,"month":5,"date":22,"hours":18,"minutes":43,"seconds":20},{"year":2023,"month":5,"date":22,"hours":18,"minutes":46,"seconds":40},{"year":2023,"month":5,"date":22,"hours":18,"minutes":50,"seconds":0},{"year":2023,"month":5,"date":22,"hours":18,"minutes":53,"seconds":20},{"year":2023,"month":5,"date":22,"hours":18,"minutes":56,"seconds":40},
{"year":2023,"month":5,"date":22,"hours":19,"minutes":0,"seconds":0},{"year":2023,"month":5,"date":22,"hours":19,"minutes":3,"seconds":20},{"year":2023,"month":5,"date":22,"hours":19,"minutes":6,"seconds":40},{"year":2023,"month":5,"date":22,"hours":19,"minutes":10,"seconds":0},{"year":2023,"month":5,"date":22,"hours":19,"minutes":13,"seconds":20},{"year":2023,"month":5,"date":22,"hours":19,"minutes":16,"seconds":40},{"year":2023,"month":5,"date":22,"hours":19,"minutes":20,"seconds":0},{"year":2023,"month":5,"date":22,"hours":19,"minutes":23,"seconds":20},{"year":2023,"month":5,"date":22,"hours":19,"minutes":26,"seconds":40},{"year":2023,"month":5,"date":22,"hours":19,"minutes":30,"seconds":0},{"year":2023,"month":5,"date":22,"hours":19,"minutes":33,"seconds":20},{"year":2023,"month":5,"date":22,"hours":19,"minutes":36,"seconds":40},{"year":2023,"month":5,"date":22,"hours":19,"minutes":40,"seconds":0}],
          "labelExpr": "(minutes(datum.value) % 20 == 0 && seconds(datum.value) == 0) ? [timeFormat(datum.value, '%d/%m/%Y'), timeFormat(datum.value, '%H:%M:%S')] : ''", "labelAngle": -45, "labelAlign": "right", "labelBaseline": "top", "labelFontSize": 6.5, "labelColor": "#a8a8a8", "labelLineHeight": 8, "labelOverlap": false, "labelPadding": 4, "domainColor": "#d07020", "tickColor": "#d07020", "tickSize": 3, "grid": false}}
},
"layer": [
  {"data": {"values": [{}]}, "mark": {"type": "rect", "color": {"gradient": "linear", "x1": 0, "y1": 0, "x2": 0, "y2": 1, "stops": [{"offset": 0, "color": "#3d3d3d"}, {"offset": 0.45, "color": "#191919"}, {"offset": 1, "color": "#030303"}]}},
   "encoding": {"x": {"value": 0}, "x2": {"value": "width"}, "y": {"value": 0}, "y2": {"value": "height"}}},
  {"data": {"name": "ac"}, "mark": {"type": "line", "strokeWidth": 1.3},
   "encoding": {"y": {"field": "v", "type": "quantitative", "scale": {"domain": [-60, 0], "range": [35, 1], "zero": false, "nice": false},
      "axis": {"orient": "left", "values": [-50, 0], "format": "d", "title": "dB", "titleColor": "#e6e619", "domainColor": "#d07020", "grid": true}},
    "color": {"datum": "Strength X T:d1-4520-1640", "type": "nominal",
      "scale": {"domain": ["Strength X T:d1-4520-1640", "Abs Tilt-4520-1640", "Abs Speed-4520-1640", "SP Std-4520-1640", "Temperature-5819-198", "Heading-4520-1640", "AirSaturation-4330W-4189", "Salinity-5819-198", "Turbidity-4296-144", "Pressure-4117F-2294"],
                "range": ["#e6e619", "#b0231c", "#e8e8e8", "#ff1c1c", "#2a4fc4", "#8e44c8", "#2ec6d8", "#1a9a3a", "#cfcf10", "#e81c1c"]},
      "legend": {"orient": "none", "legendX": 113, "legendY": 175, "title": null, "fillColor": "#1b1b1b", "strokeColor": "#808080", "padding": 3, "labelFontSize": 6.2, "labelColor": "#cfcfcf", "symbolType": "stroke", "symbolSize": 42, "symbolStrokeWidth": 1.5, "rowPadding": 1.1, "labelOffset": 6}}}},
  {"data": {"values": [{"t": "2023-05-22T17:04:40", "v": -67, "label": "Acoustic Signal Strength (dB)"}]},
   "mark": {"type": "text", "color": "#d4d42a", "fontSize": 14, "fontWeight": "bold", "font": "Lato", "baseline": "middle"},
   "encoding": {"y": {"field": "v", "type": "quantitative", "scale": {"domain": [-60, 0], "range": [35, 1], "zero": false, "nice": false}, "axis": null}, "text": {"field": "label"}}},
  {"data": {"name": "tilt"}, "mark": {"type": "line", "strokeWidth": 1},
   "encoding": {"y": {"field": "v", "type": "quantitative", "scale": {"domain": [5, 21.5], "range": [58.5, 20.5], "zero": false, "nice": false},
      "axis": {"orient": "right", "values": [10, 20], "format": "d", "title": null, "domainColor": "#d07020", "grid": true}},
    "color": {"datum": "Abs Tilt-4520-1640", "type": "nominal"}}},
  {"data": {"values": [{"t": "2023-05-22T17:02:27", "v": 3.9, "label": "Tilt (deg)"}]},
   "mark": {"type": "text", "color": "#e8883a", "fontSize": 14, "fontWeight": "bold", "font": "Lato", "baseline": "middle"},
   "encoding": {"y": {"field": "v", "type": "quantitative", "scale": {"domain": [5, 21.5], "range": [58.5, 20.5], "zero": false, "nice": false}, "axis": null}, "text": {"field": "label"}}},
  {"data": {"name": "spd"}, "mark": {"type": "line", "strokeWidth": 1},
   "encoding": {"y": {"field": "v", "type": "quantitative", "scale": {"domain": [0, 93], "range": [128, 92.7], "zero": false, "nice": false},
      "axis": {"orient": "left", "values": [0, 50], "format": "d", "title": "cm/s", "titleColor": "#c8c8c8", "domainColor": "#d07020", "grid": true}},
    "color": {"datum": "Abs Speed-4520-1640", "type": "nominal"}}},
  {"data": {"name": "sd"}, "mark": {"type": "line", "strokeWidth": 1},
   "encoding": {"y": {"field": "v", "type": "quantitative", "scale": {"domain": [0, 93], "range": [128, 92.7], "zero": false, "nice": false}, "axis": null},
    "color": {"datum": "SP Std-4520-1640", "type": "nominal"}}},
  {"data": {"values": [{"t": "2023-05-22T16:47:14", "v": -29, "label": "ROV speed &"}]},
   "mark": {"type": "text", "color": "#ffffff", "fontSize": 14, "fontWeight": "bold", "font": "Lato", "baseline": "middle", "align": "right"},
   "encoding": {"y": {"field": "v", "type": "quantitative", "scale": {"domain": [0, 93], "range": [128, 92.7], "zero": false, "nice": false}, "axis": null}, "text": {"field": "label"}}},
  {"data": {"values": [{"t": "2023-05-22T16:48:43", "v": -29, "label": "Standard Deviation Speed (cm/s)"}]},
   "mark": {"type": "text", "color": "#ff2a2a", "fontSize": 14, "fontWeight": "bold", "font": "Lato", "baseline": "middle", "align": "left"},
   "encoding": {"y": {"field": "v", "type": "quantitative", "scale": {"domain": [0, 93], "range": [128, 92.7], "zero": false, "nice": false}, "axis": null}, "text": {"field": "label"}}},
  {"data": {"name": "temp"}, "mark": {"type": "line", "strokeWidth": 1.2},
   "encoding": {"y": {"field": "v", "type": "quantitative", "scale": {"domain": [-0.61, -0.32], "range": [185.6, 139.2], "zero": false, "nice": false},
      "axis": {"orient": "right", "values": [-0.6, -0.5, -0.4], "format": ".2f", "title": null, "domainColor": "#2a50d0", "grid": true, "labelFontSize": 5.8, "tickSize": 2, "labelPadding": 1}},
    "color": {"datum": "Temperature-5819-198", "type": "nominal"}}},
  {"data": {"values": [{"t": "2023-05-22T17:04:40", "v": -0.5, "label": "Temperature (degC)"}]},
   "mark": {"type": "text", "color": "#3a64d8", "fontSize": 14, "fontWeight": "bold", "font": "Lato", "baseline": "middle"},
   "encoding": {"y": {"field": "v", "type": "quantitative", "scale": {"domain": [-0.61, -0.32], "range": [185.6, 139.2], "zero": false, "nice": false}, "axis": null}, "text": {"field": "label"}}},
  {"data": {"name": "head"}, "mark": {"type": "line", "strokeWidth": 1.2},
   "encoding": {"y": {"field": "v", "type": "quantitative", "scale": {"domain": [-10, 380], "range": [224, 187], "zero": false, "nice": false},
      "axis": {"orient": "left", "values": [0, 200], "format": "d", "title": "Deg", "titleColor": "#8e44c8", "domainColor": "#d07020", "grid": true}},
    "color": {"datum": "Heading-4520-1640", "type": "nominal"}}},
  {"data": {"values": [{"t": "2023-05-22T17:07:16", "v": 10.5, "label": "Heading (deg)"}]},
   "mark": {"type": "text", "color": "#9b4fd6", "fontSize": 14, "fontWeight": "bold", "font": "Lato", "baseline": "middle"},
   "encoding": {"y": {"field": "v", "type": "quantitative", "scale": {"domain": [-10, 380], "range": [224, 187], "zero": false, "nice": false}, "axis": null}, "text": {"field": "label"}}},
  {"data": {"name": "oxy"}, "mark": {"type": "line", "strokeWidth": 1.5},
   "encoding": {"y": {"field": "v", "type": "quantitative", "scale": {"domain": [80.78, 82.08], "range": [270, 234.8], "zero": false, "nice": false},
      "axis": {"orient": "right", "values": [81.0, 81.5, 82.0], "format": ".1f", "title": null, "domainColor": "#2ec6d8", "grid": true, "labelFontSize": 6.3, "tickSize": 2, "labelPadding": 1}},
    "color": {"datum": "AirSaturation-4330W-4189", "type": "nominal"}}},
  {"data": {"values": [{"t": "2023-05-22T17:11", "v": 80.59, "label": "Oxygen Saturation (%)"}]},
   "mark": {"type": "text", "color": "#2ec4d6", "fontSize": 14, "fontWeight": "bold", "font": "Lato", "baseline": "middle"},
   "encoding": {"y": {"field": "v", "type": "quantitative", "scale": {"domain": [80.78, 82.08], "range": [270, 234.8], "zero": false, "nice": false}, "axis": null}, "text": {"field": "label"}}},
  {"data": {"name": "sal"}, "mark": {"type": "line", "strokeWidth": 1.2},
   "encoding": {"y": {"field": "v", "type": "quantitative", "scale": {"domain": [36.0, 36.21], "range": [317, 280.25], "zero": false, "nice": false},
      "axis": {"orient": "left", "values": [36.0, 36.1, 36.2], "format": ".2f", "title": "PSU", "titleColor": "#1a9a3a", "domainColor": "#1a9a3a", "grid": true}},
    "color": {"datum": "Salinity-5819-198", "type": "nominal"}}},
  {"data": {"values": [{"t": "2023-05-22T17:00:36", "v": 36.057, "label": "Salinity (psu)"}]},
   "mark": {"type": "text", "color": "#1f9e3e", "fontSize": 14, "fontWeight": "bold", "font": "Lato", "baseline": "middle"},
   "encoding": {"y": {"field": "v", "type": "quantitative", "scale": {"domain": [36.0, 36.21], "range": [317, 280.25], "zero": false, "nice": false}, "axis": null}, "text": {"field": "label"}}},
  {"data": {"name": "turb"}, "mark": {"type": "line", "strokeWidth": 1.2},
   "encoding": {"y": {"field": "v", "type": "quantitative", "scale": {"domain": [0, 108], "range": [363, 327.4], "zero": false, "nice": false},
      "axis": {"orient": "right", "values": [0, 50, 100], "format": "d", "title": null, "domainColor": "#cfcf10", "grid": true}},
    "color": {"datum": "Turbidity-4296-144", "type": "nominal"}}},
  {"data": {"values": [{"t": "2023-05-22T17:04:18", "v": -36, "label": "Turbidity (FTU)"}]},
   "mark": {"type": "text", "color": "#d6d600", "fontSize": 14, "fontWeight": "bold", "font": "Lato", "baseline": "middle"},
   "encoding": {"y": {"field": "v", "type": "quantitative", "scale": {"domain": [0, 108], "range": [363, 327.4], "zero": false, "nice": false}, "axis": null}, "text": {"field": "label"}}},
  {"data": {"name": "pres"}, "mark": {"type": "line", "strokeWidth": 1.3},
   "encoding": {"y": {"field": "v", "type": "quantitative", "scale": {"domain": [10240, 11240], "range": [413, 375], "zero": false, "nice": false},
      "axis": {"orient": "left", "values": [10500, 11000], "format": "d", "title": "kPa", "titleColor": "#e81c1c", "domainColor": "#e81c1c", "grid": true}},
    "color": {"datum": "Pressure-4117F-2294", "type": "nominal"}}},
  {"data": {"values": [{"t": "2023-05-22T17:08", "v": 10579, "label": "Pressure (kPa)"}]},
   "mark": {"type": "text", "color": "#ee2222", "fontSize": 14, "fontWeight": "bold", "font": "Lato", "baseline": "middle"},
   "encoding": {"y": {"field": "v", "type": "quantitative", "scale": {"domain": [10240, 11240], "range": [413, 375], "zero": false, "nice": false}, "axis": null}, "text": {"field": "label"}}}
],
"resolve": {"scale": {"y": "independent"}, "axis": {"y": "independent"}},
"config": {
  "font": "Liberation Sans",
  "view": {"stroke": "#7a4a1e", "strokeWidth": 1, "fill": "#1a1a1a"},
  "axisY": {"labelFontSize": 6.5, "labelColor": "#b8b8b8", "tickColor": "#e08020", "tickSize": 3, "gridColor": "#707070", "gridDash": [1, 3], "gridOpacity": 0.7, "titleFontSize": 8, "titleFontWeight": "normal", "domainWidth": 1.5, "labelPadding": 2, "titlePadding": 3}
}
}
